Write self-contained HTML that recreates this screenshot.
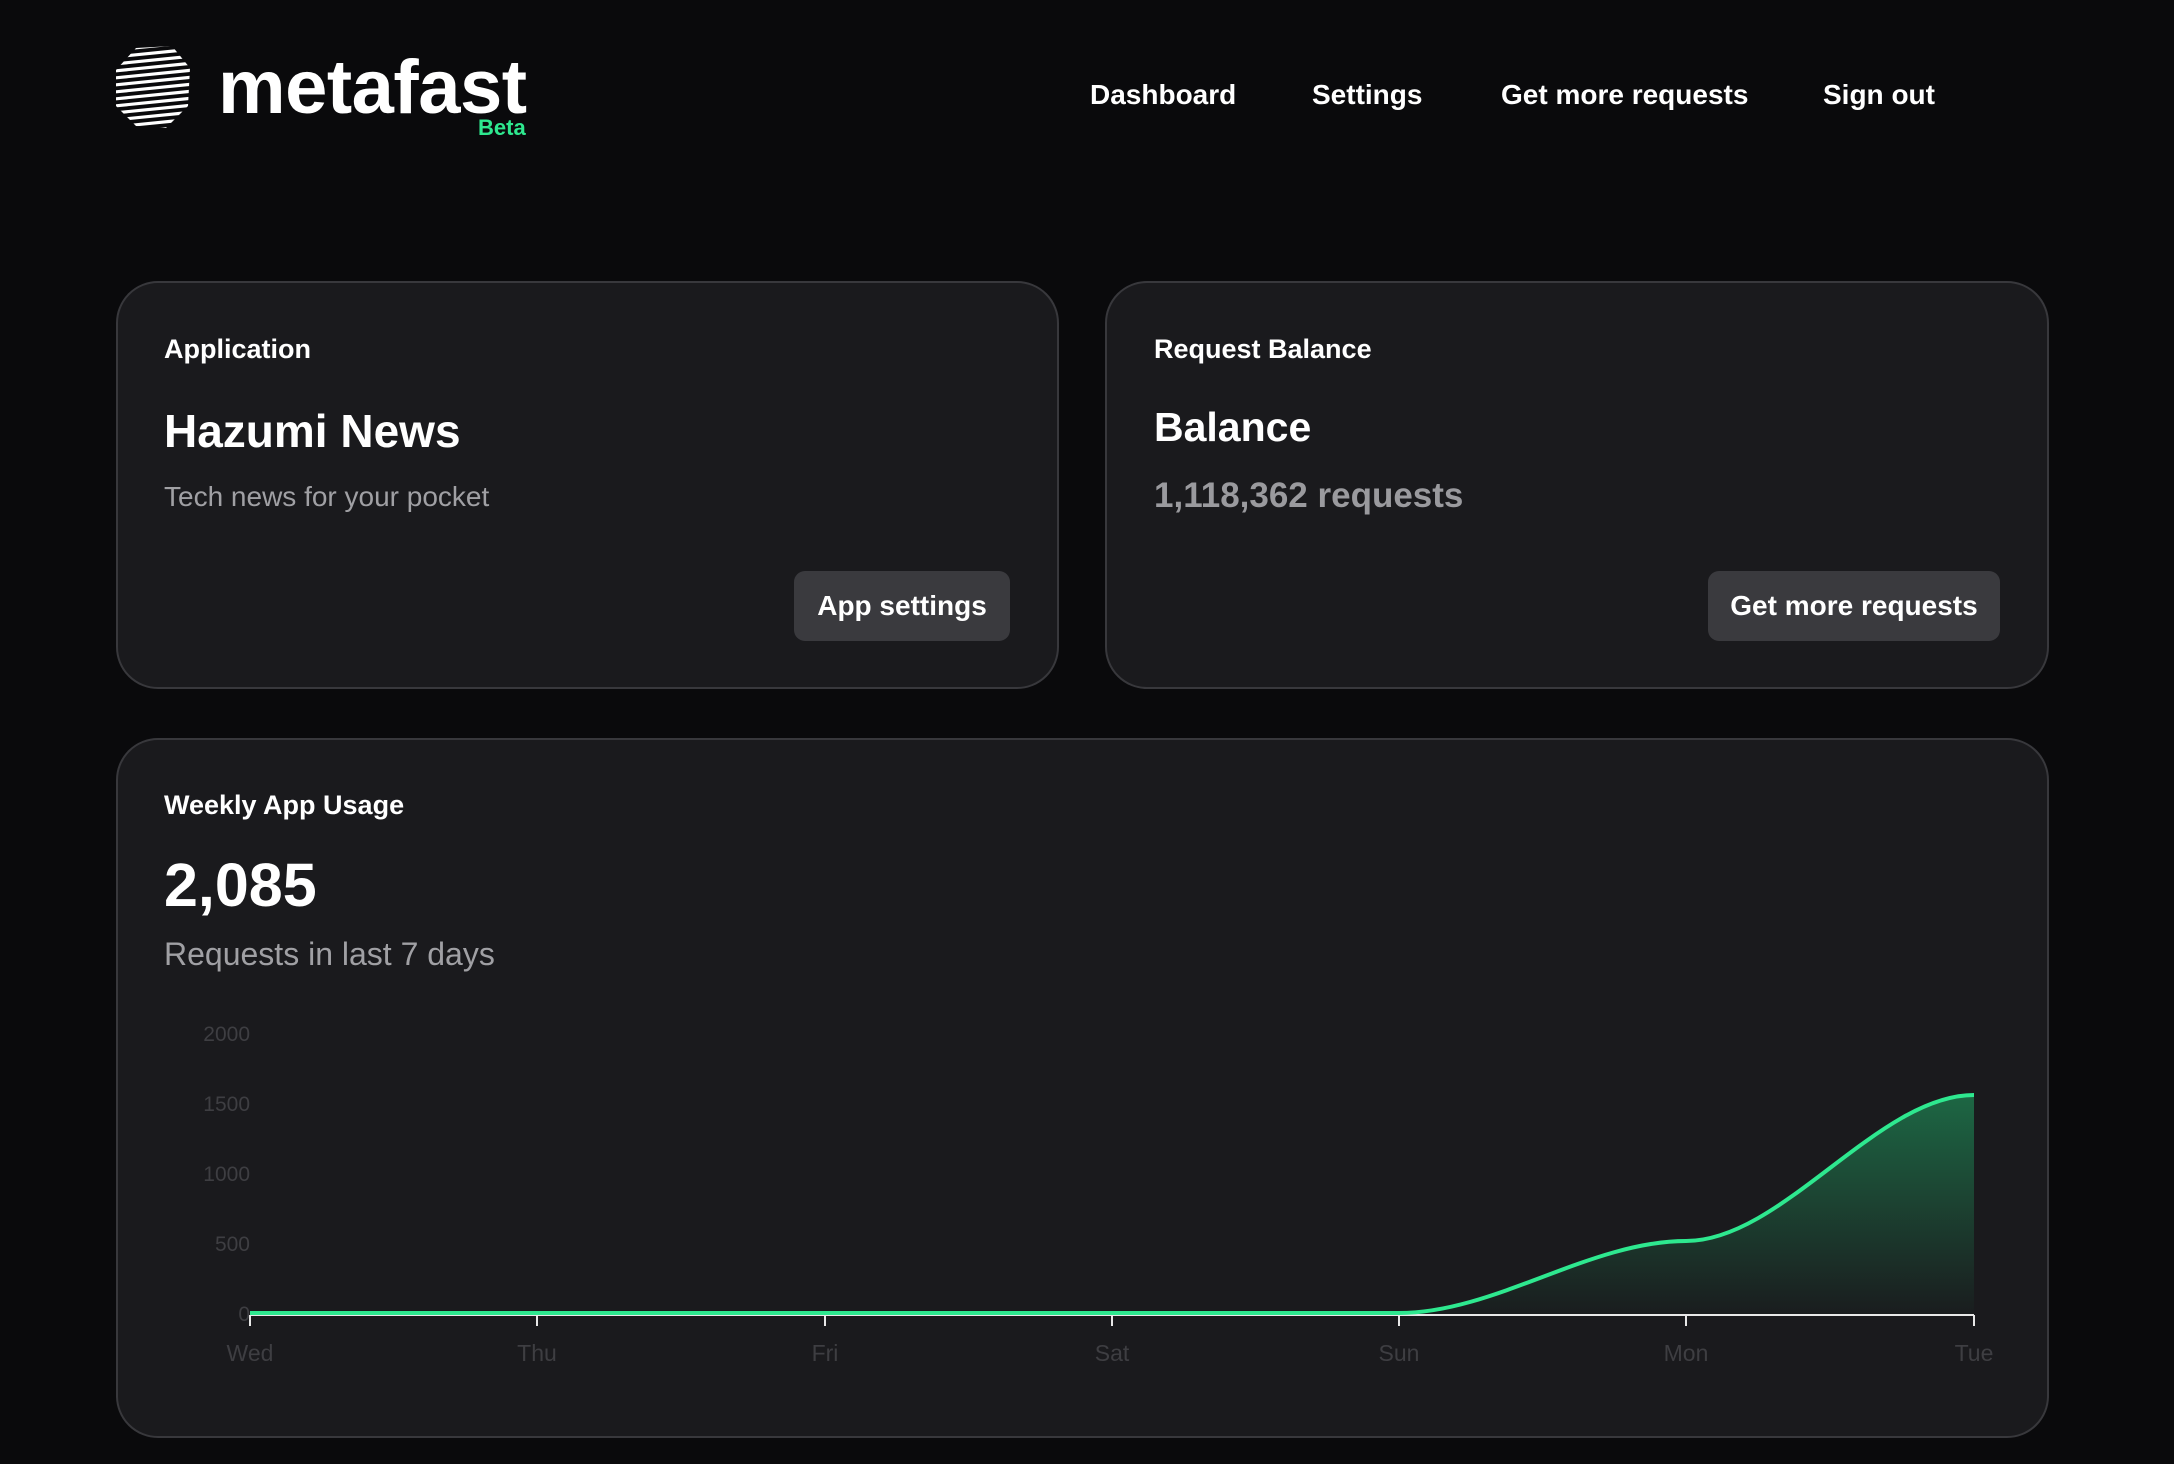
<!DOCTYPE html>
<html><head><meta charset="utf-8"><style>
*{margin:0;padding:0;box-sizing:border-box}
body{width:2174px;height:1464px;background:#0a0a0c;font-family:"Liberation Sans",sans-serif;color:#fff;position:relative;overflow:hidden}
.abs{position:absolute;white-space:nowrap}
.card{position:absolute;background:#1a1a1d;border:2px solid #38383c;border-radius:42px}
.nav{font-size:28px;font-weight:bold;top:79px}
.lbl{font-size:27px;font-weight:bold}
.btn{position:absolute;background:#3a3a3e;border-radius:11px;font-size:28px;font-weight:bold;display:flex;align-items:center;justify-content:center}
</style></head><body>
<svg class="abs" style="left:114px;top:46px" width="78" height="84" viewBox="0 0 78 84">
<defs><clipPath id="c"><polygon points="22,2 58,0 76,22 74,60 52,82 22,80 2,60 2,24"/></clipPath></defs>
<g clip-path="url(#c)" stroke="#fff" stroke-width="3.2">
<line x1="0" y1="4" x2="80" y2="-4"/><line x1="0" y1="11" x2="80" y2="3"/><line x1="0" y1="18" x2="80" y2="10"/><line x1="0" y1="25" x2="80" y2="17"/><line x1="0" y1="32" x2="80" y2="24"/><line x1="0" y1="39" x2="80" y2="31"/><line x1="0" y1="46" x2="80" y2="38"/><line x1="0" y1="53" x2="80" y2="45"/><line x1="0" y1="60" x2="80" y2="52"/><line x1="0" y1="67" x2="80" y2="59"/><line x1="0" y1="74" x2="80" y2="66"/><line x1="0" y1="81" x2="80" y2="73"/><line x1="0" y1="88" x2="80" y2="80"/>
</g></svg>
<div class="abs" style="left:218px;top:50px;font-size:76px;font-weight:bold;letter-spacing:-0.5px;line-height:1">metafast</div>
<div class="abs" style="left:478px;top:117px;font-size:22px;font-weight:bold;color:#2ee88f;line-height:1">Beta</div>
<div class="abs nav" style="left:1090px">Dashboard</div>
<div class="abs nav" style="left:1312px">Settings</div>
<div class="abs nav" style="left:1501px">Get more requests</div>
<div class="abs nav" style="left:1823px">Sign out</div>

<div class="card" style="left:116px;top:281px;width:943px;height:408px"></div>
<div class="abs lbl" style="left:164px;top:334px">Application</div>
<div class="abs" style="left:164px;top:404px;font-size:46px;font-weight:bold">Hazumi News</div>
<div class="abs" style="left:164px;top:481px;font-size:28px;color:#a0a0a4">Tech news for your pocket</div>
<div class="btn" style="left:794px;top:571px;width:216px;height:70px">App settings</div>

<div class="card" style="left:1105px;top:281px;width:944px;height:408px"></div>
<div class="abs lbl" style="left:1154px;top:334px">Request Balance</div>
<div class="abs" style="left:1154px;top:404px;font-size:41px;font-weight:bold">Balance</div>
<div class="abs" style="left:1154px;top:476px;font-size:35px;font-weight:bold;color:#9a9a9e">1,118,362 requests</div>
<div class="btn" style="left:1708px;top:571px;width:292px;height:70px">Get more requests</div>

<div class="card" style="left:116px;top:738px;width:1933px;height:700px"></div>
<div class="abs lbl" style="left:164px;top:790px">Weekly App Usage</div>
<div class="abs" style="left:164px;top:850px;font-size:61px;font-weight:bold">2,085</div>
<div class="abs" style="left:164px;top:936px;font-size:32px;color:#a0a0a4">Requests in last 7 days</div>

<svg class="abs" style="left:0;top:0" width="2174" height="1464">
<defs><linearGradient id="g" x1="0" y1="0" x2="0" y2="1"><stop offset="0" stop-color="#1f9a5e" stop-opacity="0.6"/><stop offset="1" stop-color="#1f9a5e" stop-opacity="0.02"/></linearGradient></defs>
<g font-family="Liberation Sans" font-size="21" fill="#3e3e42" text-anchor="end">
<text x="250" y="1041">2000</text><text x="250" y="1111">1500</text><text x="250" y="1181">1000</text><text x="250" y="1251">500</text><text x="250" y="1321">0</text>
</g>
<g font-family="Liberation Sans" font-size="23" fill="#3e3e42" text-anchor="middle">
<text x="250" y="1361">Wed</text><text x="537" y="1361">Thu</text><text x="825" y="1361">Fri</text><text x="1112" y="1361">Sat</text><text x="1399" y="1361">Sun</text><text x="1686" y="1361">Mon</text><text x="1974" y="1361">Tue</text>
</g>
<path d="M1399,1314 C1495,1314 1590,1241 1686,1241 C1782,1241 1878,1095 1974,1095 L1974,1315 L1399,1315 Z" fill="url(#g)"/>
<line x1="250" y1="1315" x2="1974" y2="1315" stroke="#e8e8e8" stroke-width="2"/>
<g stroke="#e8e8e8" stroke-width="2"><line x1="250" y1="1315" x2="250" y2="1326"/><line x1="537" y1="1315" x2="537" y2="1326"/><line x1="825" y1="1315" x2="825" y2="1326"/><line x1="1112" y1="1315" x2="1112" y2="1326"/><line x1="1399" y1="1315" x2="1399" y2="1326"/><line x1="1686" y1="1315" x2="1686" y2="1326"/><line x1="1974" y1="1315" x2="1974" y2="1326"/></g>
<path d="M250,1313 L1399,1313 C1495,1313 1590,1241 1686,1241 C1782,1241 1878,1095 1974,1095" fill="none" stroke="#2ee88f" stroke-width="4"/>
</svg>
</body></html>
